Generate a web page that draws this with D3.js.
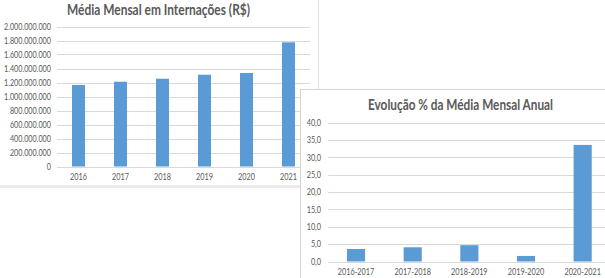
<!DOCTYPE html>
<html><head><meta charset="utf-8">
<script src="https://cdn.jsdelivr.net/npm/d3@7"></script>
<style>
html,body{margin:0;padding:0;background:#fff;}
svg{display:block;font-family:Lato,"Liberation Sans",sans-serif;}
</style></head>
<body>
<script>
const years = ["2016","2017","2018","2019","2020","2021"];
const monthlyAverage = [1164000000, 1211000000, 1254000000, 1311000000, 1336000000, 1774000000];
const amountTicks = [0,200000000,400000000,600000000,800000000,1000000000,1200000000,1400000000,1600000000,1800000000,2000000000];

const periods = ["2016-2017","2017-2018","2018-2019","2019-2020","2020-2021"];
const growthPct = [3.6, 4.1, 4.7, 1.6, 33.6];
const pctTicks = [0,5,10,15,20,25,30,35,40];

const title1 = "Média Mensal em Internações (R$)";
const title2 = "Evolução % da Média Mensal Anual";

const loc = d3.formatLocale({decimal:",", thousands:".", grouping:[3], currency:["R$",""]});
const fmtInt = loc.format(",.0f");
const fmt1 = loc.format(",.1f");

const W = 605, H = 278;
const BLUE = "#5B9BD5", GRID = "#d9d9d9", TXT = "#595959";
const svg = d3.select("body").append("svg").attr("width", W).attr("height", H);

function ratioFor(sample, size, targetW, weight) {
  const t = svg.append("text").attr("font-size", size).attr("font-weight", weight || "normal").text(sample);
  const w = t.node().getComputedTextLength();
  t.remove();
  return Math.min(1, targetW / w);
}
function squeeze(sel, r) {
  sel.each(function() {
    const w = this.getComputedTextLength();
    d3.select(this).attr("textLength", w * r).attr("lengthAdjust", "spacingAndGlyphs");
  });
}
const FS_TICK = 9, FS_TITLE = 14.5;
const rAmount = ratioFor("2.000.000.000", FS_TICK, 47);
const rLbl = ratioFor("2016-2017", FS_TICK, 36.5);
const rT1 = ratioFor(title1, FS_TITLE, 183, "bold");
const rT2 = ratioFor(title2, FS_TITLE, 185, "bold");

// ---------- Chart 1 ----------
const g1 = svg.append("g");
g1.append("line").attr("x1",318.5).attr("x2",318.5).attr("y1",0).attr("y2",89).attr("stroke","#e3e3e3");
g1.append("rect").attr("x",0).attr("y",185).attr("width",300).attr("height",3).attr("fill","#ececec");

const x1 = d3.scaleBand().domain(years).range([57.5, 309.5]).paddingInner(0.69).paddingOuter(0.345);
const y1 = d3.scaleLinear().domain([0, 2000000000]).range([166.5, 26.5]);

g1.append("g").selectAll("line").data(amountTicks).join("line")
  .attr("x1",57).attr("x2",310).attr("y1",d=>Math.round(y1(d))+0.5).attr("y2",d=>Math.round(y1(d))+0.5)
  .attr("stroke",GRID).attr("stroke-width",1);
g1.append("g").selectAll("text").data(amountTicks).join("text")
  .attr("x",51).attr("y",d=>y1(d)).attr("dy","0.35em").attr("text-anchor","end")
  .attr("font-size",FS_TICK).attr("fill",TXT).text(d=>fmtInt(d)).call(squeeze, rAmount);
g1.append("g").selectAll("rect").data(monthlyAverage).join("rect")
  .attr("x",(d,i)=>x1(years[i])).attr("width",x1.bandwidth())
  .attr("y",d=>y1(d)).attr("height",d=>y1(0)-y1(d)).attr("fill",BLUE);
g1.append("g").selectAll("text").data(years).join("text")
  .attr("x",d=>x1(d)+x1.bandwidth()/2).attr("y",177).attr("dy","0.35em").attr("text-anchor","middle")
  .attr("font-size",FS_TICK).attr("fill",TXT).text(d=>d).call(squeeze, rLbl);
g1.append("text").attr("x",158.5).attr("y",9.5).attr("dy","0.35em").attr("text-anchor","middle")
  .attr("font-size",FS_TITLE).attr("font-weight","bold").attr("fill",TXT).text(title1).call(squeeze, rT1);

// ---------- Chart 2 ----------
const g2 = svg.append("g");
g2.append("rect").attr("x",300.5).attr("y",89.5).attr("width",320).attr("height",200)
  .attr("fill","#fff").attr("stroke","#d4d4d4");

const x2 = d3.scaleBand().domain(periods).range([327.7, 611]).paddingInner(0.68).paddingOuter(0.34);
const y2 = d3.scaleLinear().domain([0, 40]).range([261.5, 122.7]);

g2.append("g").selectAll("line").data(pctTicks).join("line")
  .attr("x1",328).attr("x2",605).attr("y1",d=>Math.round(y2(d))+0.5).attr("y2",d=>Math.round(y2(d))+0.5)
  .attr("stroke",GRID).attr("stroke-width",1);
g2.append("g").selectAll("text").data(pctTicks).join("text")
  .attr("x",321).attr("y",d=>y2(d)).attr("dy","0.35em").attr("text-anchor","end")
  .attr("font-size",FS_TICK).attr("fill",TXT).text(d=>fmt1(d)).call(squeeze, rLbl);
g2.append("g").selectAll("rect").data(growthPct).join("rect")
  .attr("x",(d,i)=>x2(periods[i])).attr("width",x2.bandwidth())
  .attr("y",d=>y2(d)).attr("height",d=>y2(0)-y2(d)).attr("fill",BLUE);
g2.append("g").selectAll("text").data(periods).join("text")
  .attr("x",d=>x2(d)+x2.bandwidth()/2).attr("y",271.5).attr("dy","0.35em").attr("text-anchor","middle")
  .attr("font-size",FS_TICK).attr("fill",TXT).text(d=>d).call(squeeze, rLbl);
g2.append("text").attr("x",460.5).attr("y",104.5).attr("dy","0.35em").attr("text-anchor","middle")
  .attr("font-size",FS_TITLE).attr("font-weight","bold").attr("fill",TXT).text(title2).call(squeeze, rT2);
</script>
</body></html>
